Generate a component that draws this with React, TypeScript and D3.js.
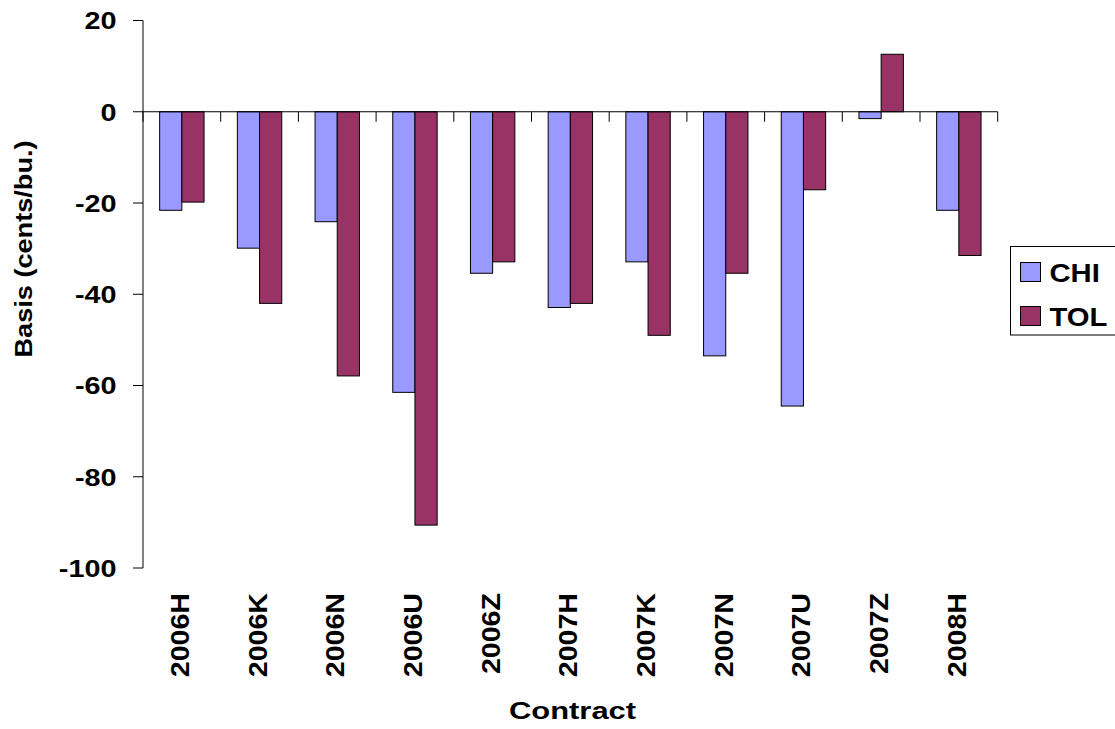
import React from "react";
import * as d3 from "d3";

const categories = ["2006H", "2006K", "2006N", "2006U", "2006Z", "2007H", "2007K", "2007N", "2007U", "2007Z", "2008H"];
const chiValues = [-21.6, -29.9, -24.1, -61.5, -35.4, -42.9, -32.9, -53.5, -64.5, -1.5, -21.6];
const tolValues = [-19.8, -42.0, -57.9, -90.6, -32.9, -42.0, -49.0, -35.4, -17.1, 12.6, -31.5];
const seriesNames = ["CHI", "TOL"];
const seriesColors = ["#9999FF", "#993366"];
const yTicks = [20, 0, -20, -40, -60, -80, -100];

const W = 1115;
const H = 729;
const FONT = "'Liberation Sans', Arial, Helvetica, sans-serif";

export default function App() {
  const plotLeft = 143;
  const plotRight = 997.7;
  const y = d3.scaleLinear().domain([-100, 20]).range([568, 20.5]);
  const x = d3.scaleBand<string>().domain(categories).range([plotLeft, plotRight]).paddingInner(0).paddingOuter(0);
  const xs = d3.scaleBand<string>().domain(seriesNames).range([0, x.bandwidth()]).paddingInner(0).paddingOuter(0.75);
  const series = [chiValues, tolValues];
  const y0 = y(0);
  const boundaries = categories.map((c) => x(c) as number).concat([plotRight]);

  return (
    <svg width={W} height={H} style={{ position: "absolute", left: 0, top: 0, background: "#fff" }} fontFamily={FONT}>
      <rect x={0} y={0} width={W} height={H} fill="#fff" />
      {/* bars */}
      {series.map((vals, si) =>
        vals.map((v, i) => {
          const bx = (x(categories[i]) as number) + (xs(seriesNames[si]) as number);
          const top = Math.min(y(v), y0);
          const h = Math.abs(y(v) - y0);
          return (
            <rect
              key={`${si}-${i}`}
              x={bx}
              y={top}
              width={xs.bandwidth()}
              height={h}
              fill={seriesColors[si]}
              stroke="#000"
              strokeWidth={1}
            />
          );
        })
      )}
      {/* y axis */}
      <line x1={plotLeft} x2={plotLeft} y1={y(20)} y2={y(-100)} stroke="#000" strokeWidth={1} />
      {yTicks.map((t) => (
        <g key={t}>
          <line x1={plotLeft - 10} x2={plotLeft} y1={y(t)} y2={y(t)} stroke="#000" strokeWidth={1} />
          <text
            transform={`translate(116.5, ${y(t) + 8.8}) scale(1.2,1)`}
            textAnchor="end"
            fontSize={24}
            fontWeight="bold"
            fill="#000"
          >
            {t}
          </text>
        </g>
      ))}
      {/* x axis */}
      <line x1={plotLeft} x2={plotRight} y1={y0} y2={y0} stroke="#000" strokeWidth={1} />
      {boundaries.map((b, i) => (
        <line key={i} x1={b} x2={b} y1={y0} y2={y0 + 10} stroke="#000" strokeWidth={1} />
      ))}
      {categories.map((c) => {
        const cx = (x(c) as number) + x.bandwidth() / 2;
        return (
          <text
            key={c}
            transform={`translate(${cx + 7}, 593) rotate(-90) scale(1.1,1)`}
            textAnchor="end"
            fontSize={26}
            fontWeight="bold"
            fill="#000"
          >
            {c}
          </text>
        );
      })}
      {/* axis titles */}
      <text
        transform={`translate(572.5, 719) scale(1.29,1)`}
        textAnchor="middle"
        fontSize={24}
        fontWeight="bold"
        fill="#000"
      >
        Contract
      </text>
      <text
        transform={`translate(32, 249) rotate(-90) scale(1.18,1)`}
        textAnchor="middle"
        fontSize={23}
        fontWeight="bold"
        fill="#000"
      >
        Basis (cents/bu.)
      </text>
      {/* legend */}
      <rect x={1010.5} y={246.5} width={120} height={88.5} fill="#fff" stroke="#000" strokeWidth={1} />
      {seriesNames.map((s, i) => (
        <g key={s}>
          <rect x={1020.5} y={262.5 + i * 44} width={20} height={19} fill={seriesColors[i]} stroke="#000" strokeWidth={1} />
          <text
            transform={`translate(1049.5, ${281.5 + i * 44}) scale(1.17,1)`}
            fontSize={25}
            fontWeight="bold"
            fill="#000"
          >
            {s}
          </text>
        </g>
      ))}
    </svg>
  );
}
